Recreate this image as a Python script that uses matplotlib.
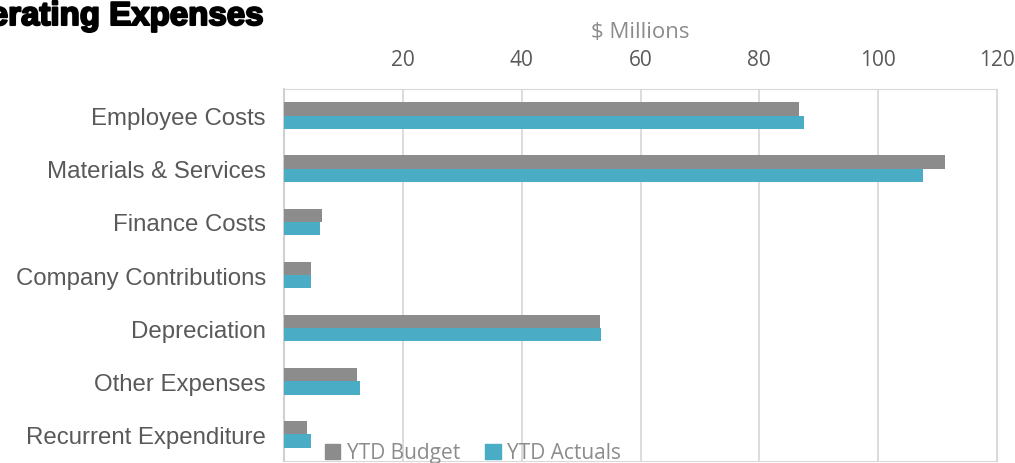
import numpy as np
import matplotlib.pyplot as plt
import matplotlib.patheffects as pe
from matplotlib.patches import Patch

categories = ["Employee Costs", "Materials & Services", "Finance Costs",
              "Company Contributions", "Depreciation", "Other Expenses",
              "Recurrent Expenditure"]
ytd_budget = [86.7, 111.3, 6.4, 4.5, 53.2, 12.3, 3.9]
ytd_actuals = [87.5, 107.6, 6.1, 4.5, 53.4, 12.8, 4.5]
x_ticks = [20, 40, 60, 80, 100, 120]

grey = "#8c8c8c"
teal = "#4bacc6"
label_col = "#595959"

W, H = 1015, 464
fig = plt.figure(figsize=(W / 100, H / 100), dpi=100)
ax = fig.add_axes([284 / W, 1 - 462 / H, (997 - 284) / W, (462 - 90) / H])

y = np.arange(len(categories))
ax.barh(y - 0.125, ytd_budget, height=0.25, color=grey, label="YTD Budget", zorder=3)
ax.barh(y + 0.125, ytd_actuals, height=0.25, color=teal, label="YTD Actuals", zorder=3)

ax.set_xlim(0, 120)
ax.set_ylim(len(categories) - 0.5, -0.5)
ax.set_yticks(y)
ax.set_yticklabels(categories, fontsize=17.3, color=label_col, family="Liberation Sans")
ax.tick_params(axis="y", length=0, pad=13)

ax.xaxis.tick_top()
ax.xaxis.set_label_position("top")
ax.set_xticks(x_ticks)
ax.set_xticklabels([str(t) for t in x_ticks], fontsize=15, color=label_col, family="Open Sans")
ax.tick_params(axis="x", length=0, pad=14)
ax.set_xlabel("$ Millions", fontsize=16, color="#8c8c8c", family="Open Sans", labelpad=8)

ax.grid(axis="x", color="#d9d9d9", linewidth=1.3, zorder=0)
for s in ["top", "right", "bottom"]:
    ax.spines[s].set_color("#d9d9d9")
ax.spines["left"].set_color("#d0d0d0")
ax.spines["left"].set_linewidth(1.5)

# title is partly cut off on the left in the source image
fig.text(263 / W, 1 - 26 / H, "Operating Expenses", ha="right", va="baseline",
         fontsize=23.8, fontweight="bold", family="Liberation Sans", color="black",
         path_effects=[pe.withStroke(linewidth=1.5, foreground="black")])

handles = [Patch(color=grey, label="YTD Budget"), Patch(color=teal, label="YTD Actuals")]
fig.legend(handles=handles, loc="center left", bbox_to_anchor=(306 / W, 1 - 454 / H),
           ncol=2, frameon=False, handlelength=0.75, handleheight=0.75, handletextpad=0.3,
           columnspacing=1.2, prop={"family": "Open Sans", "size": 15},
           labelcolor="#8c8c8c")

fig.savefig("out.png", dpi=100)
